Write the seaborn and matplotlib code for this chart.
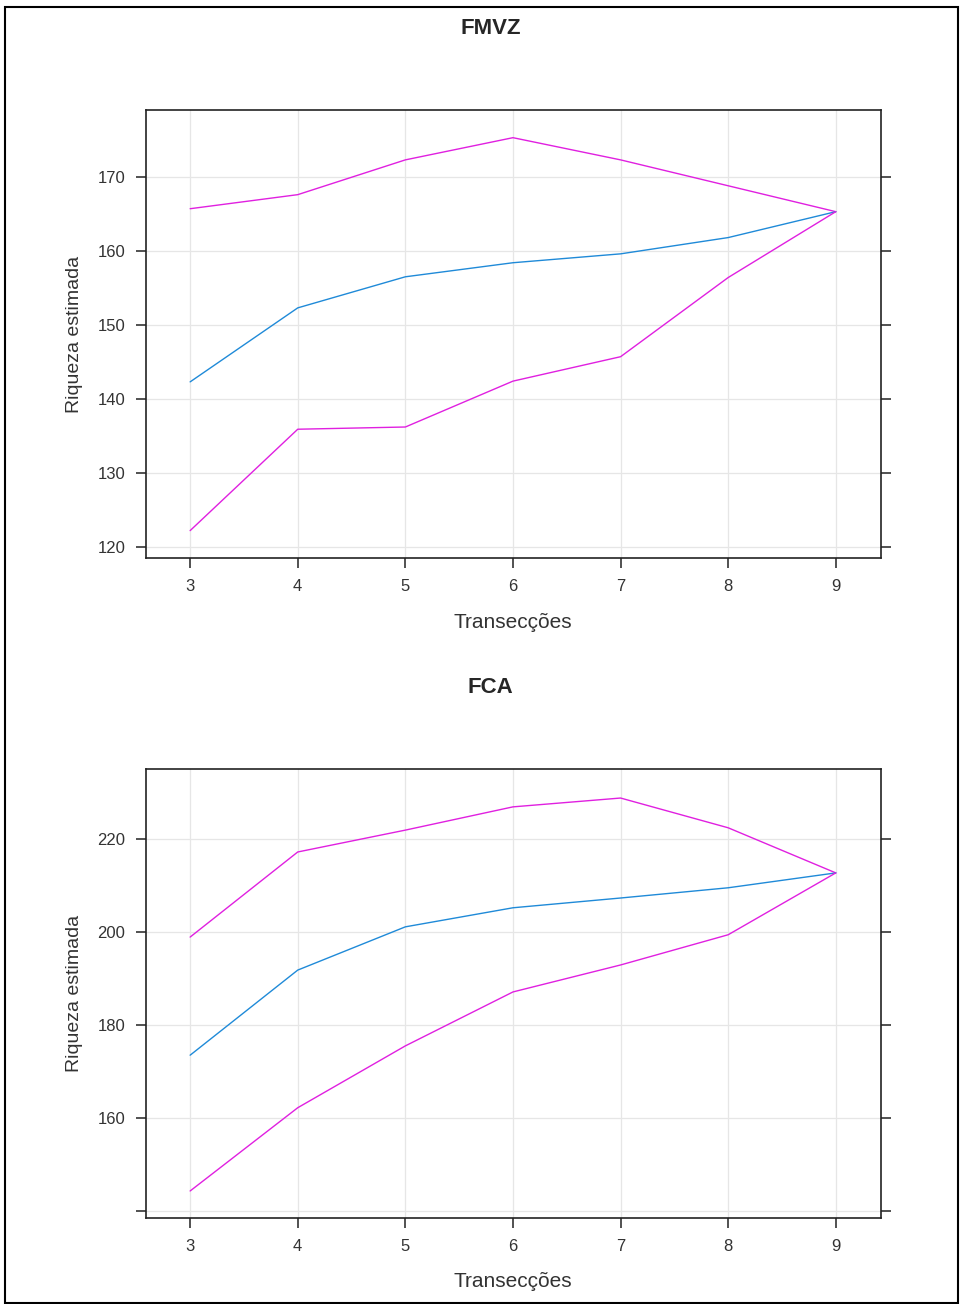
import matplotlib
matplotlib.use("Agg")
import matplotlib.pyplot as plt
import seaborn as sns
import pandas as pd
from matplotlib.patches import Rectangle

sns.set_style("white")
plt.rcParams['font.family'] = ['Liberation Sans', 'DejaVu Sans']

transects = [3, 4, 5, 6, 7, 8, 9]

fmvz_upper = [165.7, 167.6, 172.3, 175.3, 172.3, 168.8, 165.3]
fmvz_mean = [142.3, 152.3, 156.5, 158.4, 159.6, 161.8, 165.3]
fmvz_lower = [122.2, 135.9, 136.2, 142.4, 145.7, 156.4, 165.3]

fca_upper = [198.9, 217.2, 221.9, 226.9, 228.8, 222.4, 212.7]
fca_mean = [173.5, 191.8, 201.1, 205.2, 207.3, 209.5, 212.7]
fca_lower = [144.3, 162.2, 175.5, 187.1, 192.9, 199.4, 212.7]

fmvz_yticks = [120, 130, 140, 150, 160, 170]
fmvz_ylabels = ['120', '130', '140', '150', '160', '170']
fca_yticks = [140, 160, 180, 200, 220]
fca_ylabels = ['', '160', '180', '200', '220']

titles = ['FMVZ', 'FCA']
xlabel = 'Transecções'
ylabel = 'Riqueza estimada'

MAGENTA = '#e020e0'
BLUE = '#1f8ad8'


def long_df(upper, mean, lower):
    rows = []
    for name, vals in (('upper', upper), ('mean', mean), ('lower', lower)):
        for x, v in zip(transects, vals):
            rows.append({'x': x, 'y': v, 's': name})
    return pd.DataFrame(rows)


fig = plt.figure(figsize=(9.6, 13.04), dpi=100)

panels = [
    dict(rect=[0.1521, 0.5721, 0.7656, 0.3436], df=long_df(fmvz_upper, fmvz_mean, fmvz_lower),
         ylim=(118.5, 179.05), yt=fmvz_yticks, yl=fmvz_ylabels, title_y=0.978, xlab_y=0.523),
    dict(rect=[0.1521, 0.0660, 0.7656, 0.3443], df=long_df(fca_upper, fca_mean, fca_lower),
         ylim=(138.5, 235.05), yt=fca_yticks, yl=fca_ylabels, title_y=0.473, xlab_y=0.017),
]

for p, title in zip(panels, titles):
    ax = fig.add_axes(p['rect'])
    sns.lineplot(data=p['df'], x='x', y='y', hue='s', palette={'upper': MAGENTA, 'mean': BLUE, 'lower': MAGENTA},
                 ax=ax, legend=False, linewidth=1.0, estimator=None, sort=False)
    ax.set_xlim(2.59, 9.42)
    ax.set_ylim(*p['ylim'])
    ax.set_xticks(transects)
    ax.set_xticklabels([str(t) for t in transects])
    ax.set_yticks(p['yt'])
    ax.set_yticklabels(p['yl'])
    ax.grid(True, color='#e6e6e6', linewidth=0.9)
    ax.set_axisbelow(True)
    for s in ax.spines.values():
        s.set_color('#222222')
        s.set_linewidth(1.2)
    ax.tick_params(axis='both', direction='out', length=7, width=1.1, color='#222222',
                   labelsize=12, labelcolor='#333333', pad=8)
    ax.tick_params(axis='y', right=True, left=True)
    ax.tick_params(axis='x', bottom=True, top=False)
    ax.set_xlabel('')
    ax.set_ylabel(ylabel, fontsize=14, color='#333333', labelpad=10)
    fig.text(0.534, p['xlab_y'], xlabel, ha='center', va='center', fontsize=15, color='#333333')
    fig.text(0.511, p['title_y'], title, ha='center', va='center', fontsize=16, fontweight='bold')

fig.patches.append(Rectangle((0.005, 0.001), 0.993, 0.994, transform=fig.transFigure,
                             fill=False, edgecolor='black', linewidth=1.5))

fig.savefig('out.png', dpi=100)
